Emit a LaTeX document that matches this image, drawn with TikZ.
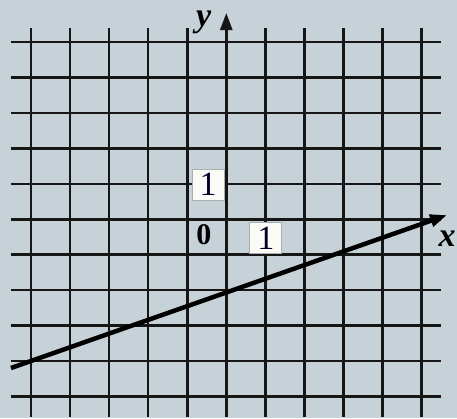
\documentclass[tikz,border=0pt]{standalone}
\usepackage{fontspec}
\setmainfont{Liberation Serif}
\usetikzlibrary{arrows.meta}
\definecolor{bg}{RGB}{198,209,216}
\definecolor{gridc}{RGB}{22,22,22}
\definecolor{boxfill}{RGB}{250,250,246}
\definecolor{boxdraw}{RGB}{170,175,178}
\tikzset{
  gridline/.style={draw=gridc, line width=2.6pt},
  fline/.style={draw=black, line width=4.5pt},
  tip/.style={-{Triangle[length=17pt,width=12pt]}},
  numbox/.style={fill=boxfill, draw=boxdraw, line width=0.8pt, inner sep=0pt,
    minimum width=32pt, minimum height=31pt, font=\fontsize{34}{34}\selectfont, text=black!85!blue},
  axlbl/.style={inner sep=0pt, font=\fontsize{34}{34}\selectfont\bfseries\itshape},
  zerolbl/.style={inner sep=0pt, font=\fontsize{30}{30}\selectfont\bfseries}
}
\begin{document}
\begin{tikzpicture}[x=39.07pt,y=35.44pt]
\path[fill=bg,use as bounding box] (-5.792,-5.607) rectangle (5.905,6.188);
\foreach \i in {-5,...,-1,1,2,...,5} { \draw[gridline] (\i,-5.578) -- (\i,5.398); }
\foreach \j in {-5,...,5} { \draw[gridline] (-5.511,\j) -- (5.495,\j); }
\coordinate (ybot) at (0,-5.578);
\coordinate (ytop) at (0,5.82);
\draw[gridline, tip] (ybot) -- (ytop);
\coordinate (L) at (-5.511,-4.196);
\coordinate (R) at (5.65,0.12);
\draw[fline, tip] (L) -- (R);
\node[axlbl] (ylab) at (-0.58,5.55) {y};
\node[axlbl, anchor=west] (xlab) at (5.43,-0.56) {x};
\node[numbox] (oney) at (-0.468,0.981) {1};
\node[numbox] (onex) at (1.011,-0.536) {1};
\node[zerolbl] (zero) at (-0.571,-0.443) {0};
\end{tikzpicture}
\end{document}
